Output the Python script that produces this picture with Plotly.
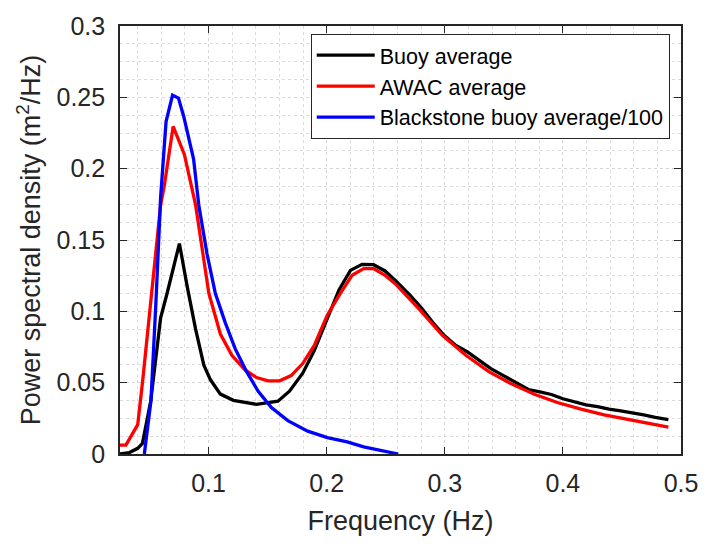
import plotly.graph_objects as go

# Buoy average (black)
buoy_f = [0.025, 0.033, 0.040, 0.044, 0.051, 0.0594, 0.065, 0.0753, 0.082, 0.089, 0.096, 0.1016,
          0.110, 0.121, 0.1406, 0.1587, 0.1685, 0.1797, 0.1895, 0.2006, 0.2104, 0.2201, 0.2299,
          0.2397, 0.2494, 0.2592, 0.2703, 0.2801, 0.2899, 0.2996, 0.3094, 0.3192, 0.3289, 0.3387,
          0.3485, 0.3582, 0.3708, 0.3805, 0.3903, 0.4, 0.4098, 0.4196, 0.4293, 0.4391, 0.4489,
          0.4586, 0.4684, 0.4782, 0.4893]
buoy_psd = [0.0, 0.001, 0.004, 0.0074, 0.037, 0.0955, 0.113, 0.1475, 0.117, 0.0875, 0.0623, 0.052,
            0.042, 0.0376, 0.0348, 0.037, 0.044, 0.0566, 0.0725, 0.0955, 0.115, 0.1287, 0.1329,
            0.1327, 0.1283, 0.1208, 0.1116, 0.1024, 0.0921, 0.083, 0.0761, 0.0715, 0.0658, 0.060,
            0.0555, 0.0509, 0.0452, 0.0435, 0.0417, 0.0387, 0.0364, 0.0344, 0.0332, 0.0314, 0.0302,
            0.0291, 0.0275, 0.0256, 0.0241]

# AWAC average (red)
awac_f = [0.025, 0.030, 0.040, 0.0443, 0.0594, 0.0625, 0.0700, 0.0795, 0.089, 0.096, 0.1002, 0.110,
          0.1197, 0.1309, 0.1406, 0.1504, 0.1602, 0.1699, 0.1797, 0.1895, 0.2006, 0.2117, 0.2215,
          0.2313, 0.2397, 0.2494, 0.2592, 0.2787, 0.2982, 0.3178, 0.3373, 0.3568, 0.3764, 0.3959,
          0.4154, 0.435, 0.4545, 0.4712, 0.4893]
awac_psd = [0.0062, 0.0062, 0.0206, 0.052, 0.1746, 0.188, 0.2296, 0.210, 0.1746, 0.1368, 0.1127, 0.0841,
            0.0692, 0.0589, 0.0536, 0.0513, 0.0513, 0.055, 0.0634, 0.0761, 0.0975, 0.1127, 0.1253,
            0.1299, 0.1299, 0.1253, 0.1184, 0.1012, 0.083, 0.0692, 0.0577, 0.049, 0.0417, 0.0359,
            0.0314, 0.0275, 0.0245, 0.0215, 0.0188]

# Blackstone buoy average / 100 (blue)
black_f = [0.0456, 0.0512, 0.0554, 0.0594, 0.0640, 0.0695, 0.0745, 0.079, 0.0873, 0.0917, 0.0987,
           0.1057, 0.1141, 0.1225, 0.1322, 0.142, 0.1532, 0.1671, 0.1839, 0.2006, 0.2174, 0.2313,
           0.2606]
black_psd = [0.0, 0.037, 0.106, 0.18, 0.233, 0.2515, 0.2495, 0.2364, 0.2067, 0.1746, 0.1402,
             0.1127, 0.0921, 0.0738, 0.0577, 0.044, 0.0325, 0.0234, 0.016, 0.0115, 0.0085, 0.005,
             0.0]

series_names = ["Buoy average", "AWAC average", "Blackstone buoy average/100"]
x_ticks = [0.1, 0.2, 0.3, 0.4, 0.5]
y_ticks = [0, 0.05, 0.1, 0.15, 0.2, 0.25, 0.3]

FONT = "Liberation Sans, Arial, sans-serif"
TXT = "#262626"

fig = go.Figure()
for f, p, name, col in [(buoy_f, buoy_psd, series_names[0], "#000000"),
                        (awac_f, awac_psd, series_names[1], "#ff0000"),
                        (black_f, black_psd, series_names[2], "#0000ff")]:
    fig.add_trace(go.Scatter(x=f, y=p, mode="lines", name=name,
                             line=dict(color=col, width=3.3)))

axis_common = dict(
    showline=True, linecolor=TXT, linewidth=1.6, mirror="ticks",
    ticks="inside", ticklen=7, tickwidth=1.3, tickcolor=TXT,
    showgrid=True, gridcolor="#d6d6d6", griddash="dot", gridwidth=1,
    zeroline=False,
    tickfont=dict(family=FONT, size=25, color=TXT),
)

fig.update_layout(
    width=710, height=547,
    margin=dict(l=120, r=22, t=17, b=93),
    paper_bgcolor="white", plot_bgcolor="white",
    showlegend=True,
    legend=dict(x=0.34, y=0.982, xanchor="left", yanchor="top",
                bgcolor="white", bordercolor=TXT, borderwidth=1,
                font=dict(family=FONT, size=21.5, color="#000000"),
                itemwidth=58, tracegroupgap=0),
    xaxis=dict(range=[0.025, 0.5], tickvals=x_ticks, ticktext=[str(v) for v in x_ticks],
               title=dict(text="Frequency (Hz)", font=dict(family=FONT, size=27, color=TXT), standoff=15),
               minor=dict(dtick=0.02, tick0=0, showgrid=True, gridcolor="#dcdcdc", griddash="dot", ticks=""),
               ticklabelstandoff=6,
               **axis_common),
    yaxis=dict(range=[0, 0.3], tickvals=y_ticks, ticktext=["0", "0.05", "0.1", "0.15", "0.2", "0.25", "0.3"],
               title=dict(text="Power spectral density (m<sup>2</sup>/Hz)", font=dict(family=FONT, size=27, color=TXT), standoff=8),
               minor=dict(dtick=0.0125, tick0=0, showgrid=True, gridcolor="#dcdcdc", griddash="dot", ticks=""),
               ticklabelstandoff=8,
               **axis_common),
)

fig.write_html("out.html")
